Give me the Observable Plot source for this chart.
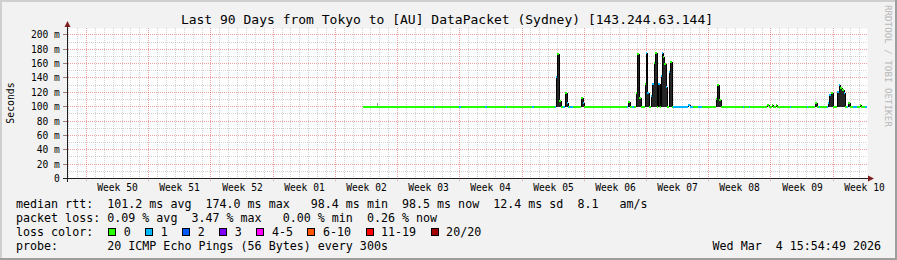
<!DOCTYPE html>
<html><head><meta charset="utf-8">
<script src="https://cdn.jsdelivr.net/npm/d3@7"></script>
<script src="https://cdn.jsdelivr.net/npm/@observablehq/plot@0.6"></script>
<style>
html,body{margin:0;padding:0;background:#f2f2f2;}
#chart{width:897px;height:260px;}
svg{display:block}
svg text{white-space:pre}
</style></head><body><div id="chart"></div>
<script>
// ---------- data ----------
const title = "Last 90 Days from Tokyo to [AU] DataPacket (Sydney) [143.244.63.144]";
const yAxisLabel = "Seconds";
const periodStart = "2025-12-04T20:40Z";
const periodEnd = "2026-03-04T20:40Z";
const dataEnd = "2026-03-04T20:00Z";
const weekStarts = ["2025-12-07","2025-12-14","2025-12-21","2025-12-28","2026-01-04","2026-01-11","2026-01-18","2026-01-25","2026-02-01","2026-02-08","2026-02-15","2026-02-22","2026-03-01"];
const weekLabels = ["Week 50","Week 51","Week 52","Week 01","Week 02","Week 03","Week 04","Week 05","Week 06","Week 07","Week 08","Week 09","Week 10"];
const yTicks = [0,20,40,60,80,100,120,140,160,180,200];
const yMinor = [10,30,50,70,90,110,130,150,170,190];
const yMax = 208.8;
const baselineRtt = 99;

// median rtt (ms), step samples: each holds until the next time
const medianTimes = [
"2026-01-07T03:00Z","2026-01-15T03:30Z","2026-01-15T06:00Z","2026-01-17T23:00Z","2026-01-18T04:30Z",
"2026-01-20T21:30Z","2026-01-21T01:30Z","2026-01-23T06:00Z","2026-01-23T10:00Z","2026-01-26T04:00Z",
"2026-01-26T09:30Z","2026-01-28T19:30Z","2026-01-28T22:00Z","2026-01-29T01:00Z","2026-01-29T05:30Z",
"2026-01-29T10:30Z","2026-01-29T16:00Z","2026-01-29T22:00Z","2026-01-30T02:30Z","2026-01-30T05:15Z",
"2026-01-30T09:15Z","2026-01-30T12:00Z","2026-01-30T18:45Z","2026-01-31T16:30Z","2026-01-31T22:00Z",
"2026-02-01T00:30Z","2026-02-05T20:00Z","2026-02-06T00:15Z","2026-02-06T05:40Z","2026-02-06T11:00Z",
"2026-02-06T16:30Z","2026-02-06T21:50Z","2026-02-07T01:00Z","2026-02-07T06:00Z","2026-02-07T10:30Z",
"2026-02-07T20:00Z","2026-02-07T23:30Z","2026-02-08T04:00Z","2026-02-08T07:20Z","2026-02-08T13:30Z",
"2026-02-08T17:00Z","2026-02-08T20:15Z","2026-02-08T23:30Z","2026-02-09T05:00Z","2026-02-09T09:15Z",
"2026-02-09T13:00Z","2026-02-09T15:15Z","2026-02-09T18:30Z","2026-02-09T22:00Z","2026-02-10T01:30Z",
"2026-02-10T05:15Z","2026-02-10T09:30Z","2026-02-10T14:00Z","2026-02-10T17:30Z","2026-02-10T21:30Z",
"2026-02-11T01:45Z","2026-02-12T17:30Z","2026-02-12T23:00Z","2026-02-13T07:00Z","2026-02-13T20:30Z",
"2026-02-14T07:15Z","2026-02-15T21:00Z","2026-02-16T00:30Z","2026-02-16T06:00Z","2026-02-16T10:30Z",
"2026-02-18T22:00Z","2026-02-19T00:45Z","2026-02-19T14:15Z","2026-02-19T17:00Z","2026-02-21T16:00Z",
"2026-02-21T18:45Z","2026-02-22T03:00Z","2026-02-22T05:45Z","2026-02-22T15:00Z","2026-02-22T17:45Z",
"2026-02-24T05:30Z","2026-02-24T08:00Z","2026-02-26T03:30Z","2026-02-26T06:00Z","2026-02-27T01:30Z",
"2026-02-27T05:30Z","2026-02-27T11:00Z","2026-02-27T13:45Z","2026-02-28T07:45Z","2026-02-28T12:00Z",
"2026-02-28T15:20Z","2026-02-28T20:45Z","2026-03-01T01:00Z","2026-03-01T12:30Z","2026-03-01T15:45Z",
"2026-03-01T21:00Z","2026-03-02T01:00Z","2026-03-02T05:15Z","2026-03-02T09:15Z","2026-03-02T13:45Z",
"2026-03-02T17:15Z","2026-03-03T00:00Z","2026-03-03T06:45Z","2026-03-03T17:30Z","2026-03-04T01:40Z",
"2026-03-04T05:45Z","2026-03-04T15:15Z"];
const medianValues = [
99,99,99,99,99, 99,99,99,99,99, 99,99,140,172,107, 99,99,119,105,99, 99,99,99,112,104,
99,99,106,99,99, 99,119,173,111,99, 131,174,118,99,114, 131,160,174,99,131,
99,142,174,168,158, 127,99,147,161,99, 99,102,99,99,99, 99,110,129,109,99,
99,99,99,99,102, 99,102,99,102,99, 99,99,99,99,104, 99,99,99,99,104,
115,118,99,120,129, 125,122,119,99,99, 104,99,99,99,102, 99,99];
// lost pings (of 20) for each sample
const medianLoss = [
0,1,0,1,0, 1,0,1,0,1, 0,1,1,0,0, 0,1,0,1,1, 0,1,0,0,1,
0,1,0,0,1, 0,0,0,0,0, 0,1,1,0,1, 1,0,0,0,1,
0,1,1,0,0, 1,0,1,0,0, 1,1,1,0,1, 0,0,0,0,0,
1,0,1,0,0, 0,0,0,0,0, 1,0,1,0,0, 0,1,0,1,1,
1,0,0,1,1, 0,0,1,0,1, 0,0,1,0,0, 0,1];

// smoke (spread of individual pings) where visible outside the median
const smokeTimes = ["2026-01-08T17:40Z"];
const smokeLow = [99];
const smokeHigh = [104];

const lossLabels = ["0","1","2","3","4-5","6-10","11-19","20/20"];
const lossColors = ["#26ff00","#00b8ff","#0059ff","#7e00ff","#ff00ff","#ff5500","#ff0000","#a10000"];

const legendRtt  = "median rtt:  101.2 ms avg  174.0 ms max   98.4 ms min  98.5 ms now  12.4 ms sd  8.1   am/s";
const legendLoss = "packet loss: 0.09 % avg  3.47 % max   0.00 % min  0.26 % now";
const legendColorTitle = "loss color:";
const legendProbe = "probe:       20 ICMP Echo Pings (56 Bytes) every 300s";
const timestamp = "Wed Mar  4 15:54:49 2026";
const watermark = "RRDTOOL / TOBI OETIKER";

// ---------- build ----------
const DAY = 864e5;
const start = new Date(periodStart), end = new Date(periodEnd);
const lossBucket = n => n <= 3 ? n : n <= 5 ? 4 : n <= 10 ? 5 : n < 20 ? 6 : 7;
const samples = medianTimes.map((t, i) => ({
  t1: new Date(t),
  t2: new Date(medianTimes[i + 1] ?? dataEnd),
  v: medianValues[i],
  c: lossColors[lossBucket(medianLoss[i])]
}));
const jumps = samples.slice(1).map((s, i) => ({t: s.t1, y1: samples[i].v, y2: s.v})).filter(d => d.y1 !== d.y2);
const raised = samples.filter(s => s.v > baselineRtt + 4);
const smoke = smokeTimes.map((t, i) => ({t: new Date(t), lo: smokeLow[i], hi: smokeHigh[i]}));
const weekDates = weekStarts.map(d => new Date(d + "T00:00Z"));
const labelDates = weekDates.map(d => new Date(+d + 3.5 * DAY));
const labelMap = new Map(labelDates.map((d, i) => [+d, weekLabels[i]]));
const dayTicks = d3.utcDay.range(new Date(+start + 1), end).filter(d => !weekDates.some(w => +w === +d));

const FONT = "'DejaVu Sans Mono', monospace";
const grid = {stroke: "#8f8f8f", strokeOpacity: 0.4, strokeDasharray: "1,1"};
const mgrid = {stroke: "#de4f4f", strokeOpacity: 0.55, strokeDasharray: "1,1"};

const chart = Plot.plot({
  width: 897, height: 260,
  marginLeft: 67, marginRight: 30, marginTop: 28, marginBottom: 82,
  style: {background: "#f2f2f2", fontFamily: FONT, fontSize: "9.6px", color: "#000", overflow: "visible"},
  x: {type: "utc", domain: [start, end], round: true, ticks: labelDates, tickFormat: d => labelMap.get(+d) ?? "", tickSize: 0, tickPadding: 6, label: null},
  y: {domain: [0, yMax], round: true, ticks: yTicks, tickFormat: d => d === 0 ? "0" : `${d} m`, tickSize: 4, tickPadding: 3.7, label: null},
  marks: [
    Plot.frame({fill: "#ffffff", stroke: "none"}),
    Plot.ruleX(dayTicks, grid),
    Plot.ruleY(yMinor, grid),
    Plot.ruleX(weekDates, {...mgrid, insetBottom: -3}),
    Plot.ruleY(yTicks.filter(d => d > 0), {...mgrid, insetLeft: -3}),
    Plot.ruleX(smoke, {x: "t", y1: "lo", y2: "hi", stroke: "#9a9a9a"}),
    Plot.rectY(raised, {x1: "t1", x2: "t2", y1: baselineRtt, y2: "v", fill: "#262626"}),
    Plot.ruleX(jumps, {x: "t", y1: "y1", y2: "y2", stroke: "#000"}),
    Plot.ruleY(samples, {y: "v", x1: "t1", x2: "t2", stroke: "c", strokeWidth: 2, dy: -0.5}),
    Plot.ruleY([0], {stroke: "#1f1f1f", insetLeft: -4, insetRight: -1}),
    Plot.ruleX([start], {stroke: "#1f1f1f", insetTop: -2, insetBottom: -4})
  ]
});
document.getElementById("chart").appendChild(chart);

const svg = d3.select(chart);
svg.selectAll('[aria-label^="y-axis"] line, [aria-label^="y-axis"] path').attr("stroke", "#8a8a8a");

const xs = chart.scale("x"), ys = chart.scale("y");
const x0 = Math.round(xs.apply(start)), x1 = Math.round(xs.apply(end));
const y0 = Math.round(ys.apply(0)), yTop = Math.round(ys.apply(yMax));
// arrows
svg.append("path").attr("d", `M${x0 - 2.5},${yTop - 1}L${x0 + 3.5},${yTop - 1}L${x0 + 0.5},${yTop - 7}Z`).attr("fill", "#801f1f");
svg.append("path").attr("d", `M${x1 + 1},${y0 - 2.5}L${x1 + 1},${y0 + 3.5}L${x1 + 7},${y0 + 0.5}Z`).attr("fill", "#801f1f");

// title
svg.append("text").attr("x", 447).attr("y", 24).attr("text-anchor", "middle")
  .attr("font-family", FONT).attr("font-size", 13).attr("fill", "#000").text(title);
// y label
svg.append("text").attr("transform", `translate(14,${(y0 + yTop) / 2}) rotate(-90)`).attr("text-anchor", "middle")
  .attr("font-family", FONT).attr("font-size", 9.8).attr("fill", "#000").text(yAxisLabel);
// legend
const legend = svg.append("g").attr("font-family", FONT).attr("font-size", 11.66).attr("fill", "#000").attr("text-anchor", "start");
const rowY = [208.3, 222.3, 236.3, 250.3];
legend.append("text").attr("x", 16).attr("y", rowY[0]).text(legendRtt);
legend.append("text").attr("x", 16).attr("y", rowY[1]).text(legendLoss);
legend.append("text").attr("x", 16).attr("y", rowY[2]).text(legendColorTitle);
legend.append("text").attr("x", 16).attr("y", rowY[3]).text(legendProbe);
legend.append("text").attr("x", 881).attr("y", rowY[3]).attr("text-anchor", "end").text(timestamp);
const CW = 7.02;
let cursor = 108.3;
lossLabels.forEach((lab, i) => {
  legend.append("rect").attr("x", Math.round(cursor) + 0.5).attr("y", 228.5).attr("width", 7).attr("height", 7)
    .attr("fill", lossColors[i]).attr("stroke", "#000").attr("stroke-width", 1);
  legend.append("text").attr("x", cursor + 15.5).attr("y", rowY[2]).text(lab);
  cursor = cursor + 15.5 + lab.length * CW + 14.5;
});
// watermark
svg.append("text").attr("transform", "translate(885,5) rotate(90)").attr("font-family", FONT).attr("text-anchor", "start")
  .attr("font-size", 9.2).attr("fill", "#b8b8b8").text(watermark);
// shaded border
svg.append("rect").attr("x", 0).attr("y", 0).attr("width", 897).attr("height", 2).attr("fill", "#cfcfcf");
svg.append("rect").attr("x", 0).attr("y", 0).attr("width", 2).attr("height", 260).attr("fill", "#cfcfcf");
svg.append("rect").attr("x", 0).attr("y", 258).attr("width", 897).attr("height", 2).attr("fill", "#9e9e9e");
svg.append("rect").attr("x", 895).attr("y", 0).attr("width", 2).attr("height", 260).attr("fill", "#9e9e9e");
</script></body></html>
